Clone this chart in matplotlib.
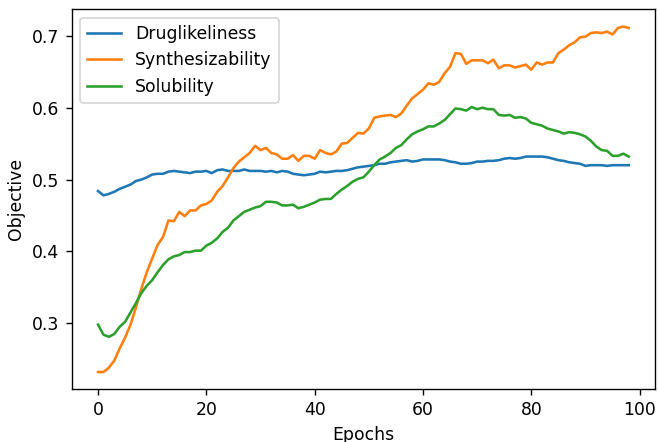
import matplotlib
matplotlib.use("Agg")
import matplotlib.pyplot as plt
import numpy as np

epochs = list(range(99))

druglikeliness = [
    0.484, 0.478, 0.480, 0.483, 0.487, 0.490, 0.493, 0.498, 0.500, 0.503,
    0.507, 0.508, 0.508, 0.511, 0.512, 0.511, 0.510, 0.509, 0.511, 0.511,
    0.512, 0.509, 0.513, 0.514, 0.512, 0.512, 0.512, 0.514, 0.512, 0.512,
    0.512, 0.511, 0.512, 0.510, 0.512, 0.511, 0.508, 0.507, 0.506, 0.507,
    0.508, 0.511, 0.510, 0.511, 0.512, 0.512, 0.513, 0.515, 0.517, 0.518,
    0.519, 0.520, 0.522, 0.522, 0.524, 0.525, 0.526, 0.527, 0.525, 0.526,
    0.528, 0.528, 0.528, 0.528, 0.527, 0.525, 0.524, 0.522, 0.522, 0.523,
    0.525, 0.525, 0.526, 0.526, 0.527, 0.529, 0.530, 0.529, 0.530, 0.532,
    0.532, 0.532, 0.532, 0.531, 0.529, 0.527, 0.526, 0.524, 0.523, 0.522,
    0.519, 0.520, 0.520, 0.520, 0.519, 0.520, 0.520, 0.520, 0.520,
]

synthesizability = [
    0.232, 0.232, 0.238, 0.248, 0.265, 0.280, 0.298, 0.322, 0.348, 0.371,
    0.390, 0.409, 0.420, 0.443, 0.442, 0.455, 0.449, 0.457, 0.457, 0.464,
    0.466, 0.471, 0.483, 0.491, 0.503, 0.516, 0.525, 0.531, 0.537, 0.547,
    0.541, 0.544, 0.537, 0.535, 0.529, 0.529, 0.534, 0.526, 0.533, 0.533,
    0.529, 0.541, 0.537, 0.535, 0.539, 0.550, 0.551, 0.558, 0.565, 0.564,
    0.571, 0.586, 0.588, 0.589, 0.590, 0.587, 0.592, 0.603, 0.613, 0.619,
    0.625, 0.634, 0.632, 0.636, 0.648, 0.657, 0.676, 0.675, 0.661, 0.666,
    0.666, 0.666, 0.662, 0.667, 0.655, 0.659, 0.659, 0.656, 0.658, 0.660,
    0.653, 0.663, 0.660, 0.663, 0.663, 0.676, 0.681, 0.687, 0.691, 0.698,
    0.699, 0.704, 0.705, 0.704, 0.706, 0.702, 0.711, 0.713, 0.711,
]

solubility = [
    0.298, 0.284, 0.281, 0.285, 0.295, 0.302, 0.315, 0.328, 0.342, 0.352,
    0.360, 0.371, 0.381, 0.389, 0.393, 0.395, 0.399, 0.399, 0.401, 0.401,
    0.408, 0.412, 0.418, 0.427, 0.433, 0.443, 0.449, 0.455, 0.458, 0.461,
    0.463, 0.469, 0.469, 0.468, 0.464, 0.464, 0.465, 0.460, 0.462, 0.465,
    0.468, 0.472, 0.473, 0.473, 0.480, 0.486, 0.491, 0.497, 0.501, 0.503,
    0.511, 0.520, 0.528, 0.532, 0.537, 0.544, 0.548, 0.556, 0.563, 0.567,
    0.570, 0.574, 0.574, 0.578, 0.583, 0.591, 0.599, 0.598, 0.596, 0.601,
    0.598, 0.600, 0.598, 0.598, 0.590, 0.589, 0.590, 0.586, 0.587, 0.585,
    0.579, 0.577, 0.575, 0.571, 0.569, 0.567, 0.564, 0.566, 0.565, 0.563,
    0.560, 0.554, 0.546, 0.541, 0.540, 0.533, 0.533, 0.536, 0.532,
]

series_names = ["Druglikeliness", "Synthesizability", "Solubility"]

DPI = 124
fig = plt.figure(figsize=(658 / DPI, 442 / DPI), dpi=DPI)
ax = fig.add_axes([71.5 / 658, 1 - 389.3 / 442, (655.3 - 71.5) / 658, (389.3 - 9.3) / 442])

for vals, name in zip([druglikeliness, synthesizability, solubility], series_names):
    ax.plot(epochs, vals, label=name)

ax.set_xlabel("Epochs")
ax.set_ylabel("Objective")
ax.set_xticks([0, 20, 40, 60, 80, 100])
ax.set_yticks([0.3, 0.4, 0.5, 0.6, 0.7])
ax.legend(loc="upper left")

fig.savefig("out.png", dpi=DPI)
